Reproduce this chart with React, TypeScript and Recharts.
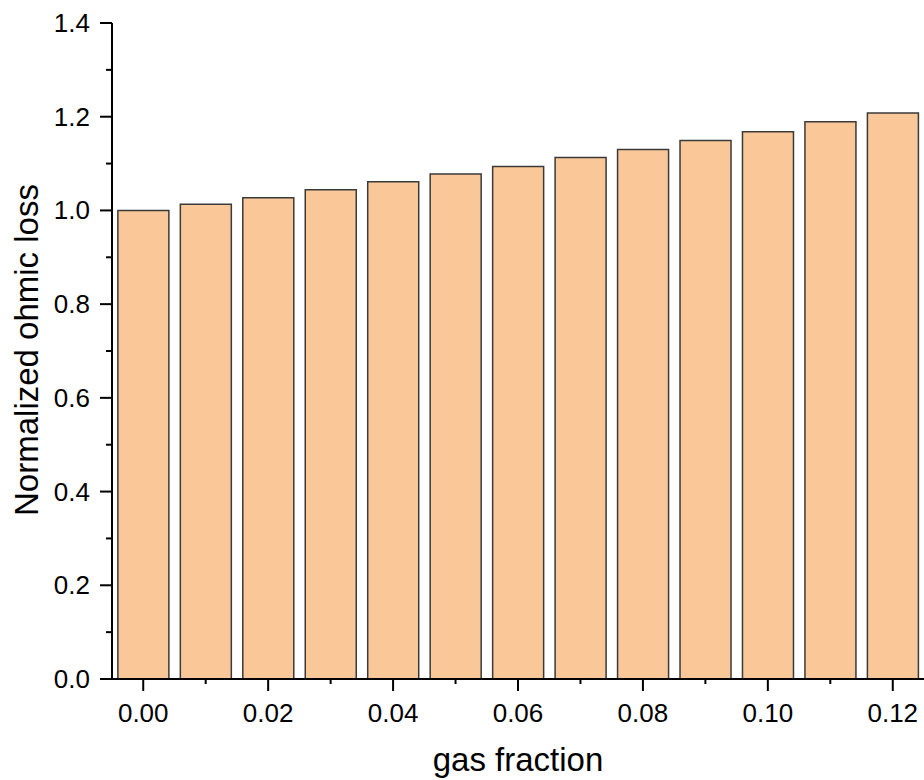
import React from 'react';
import { BarChart, Bar, XAxis, YAxis, Label } from 'recharts';

// gas fraction categories (one bar each)
const gasFraction = ['0.00', '0.01', '0.02', '0.03', '0.04', '0.05', '0.06', '0.07', '0.08', '0.09', '0.10', '0.11', '0.12'];
// normalized ohmic loss
const ohmicLoss = [1.0, 1.013, 1.027, 1.044, 1.061, 1.078, 1.094, 1.113, 1.13, 1.149, 1.168, 1.189, 1.208];
// y ticks, odd tenths are minor ticks without labels
const yTicks = [0, 0.1, 0.2, 0.3, 0.4, 0.5, 0.6, 0.7, 0.8, 0.9, 1.0, 1.1, 1.2, 1.3, 1.4];

const FONT = '"Liberation Sans", Arial, sans-serif';

const chartData = gasFraction.map((g, i) => ({ gas: g, loss: ohmicLoss[i] }));

const YTick = (props: any) => {
  const { x, y, payload } = props;
  const major = Math.round(payload.value * 10) % 2 === 0;
  return (
    <g>
      <line x1={x - (major ? 12 : 6)} x2={x} y1={y} y2={y} stroke="#000" strokeWidth={2} />
      {major && (
        <text x={x - 22} y={y} dy={9} textAnchor="end" fontSize={26} fontFamily={FONT} fill="#000">
          {payload.value.toFixed(1)}
        </text>
      )}
    </g>
  );
};

const XTick = (props: any) => {
  const { x, y, index, payload } = props;
  const major = index % 2 === 0;
  return (
    <g>
      <line x1={x} x2={x} y1={y} y2={y + (major ? 12 : 5)} stroke="#000" strokeWidth={2} />
      {major && (
        <text x={x} y={y + 43} textAnchor="middle" fontSize={26} fontFamily={FONT} fill="#000">
          {payload.value}
        </text>
      )}
    </g>
  );
};

const App: React.FC = () => {
  return (
    <div style={{ position: 'absolute', left: 0, top: 0, width: 924, height: 780, background: '#fff' }}>
      <BarChart
        width={924}
        height={780}
        data={chartData}
        margin={{ top: 23, right: 0, bottom: 0, left: 0 }}
        barCategoryGap="9.4%"
      >
        <XAxis
          dataKey="gas"
          type="category"
          interval={0}
          height={101}
          tickSize={0}
          tickMargin={0}
          tickLine={false}
          tick={XTick}
          axisLine={{ stroke: '#000', strokeWidth: 2 }}
        >
          <Label
            content={() => (
              <text x={518} y={771} textAnchor="middle" fontSize={33} fontFamily={FONT} fill="#000">
                gas fraction
              </text>
            )}
          />
        </XAxis>
        <YAxis
          type="number"
          domain={[0, 1.4]}
          ticks={yTicks}
          interval={0}
          width={112}
          tickSize={0}
          tickMargin={0}
          tickLine={false}
          tick={YTick}
          axisLine={{ stroke: '#000', strokeWidth: 2 }}
        >
          <Label
            content={() => (
              <text
                x={38}
                y={350}
                transform="rotate(-90 38 350)"
                textAnchor="middle"
                fontSize={33}
                fontFamily={FONT}
                fill="#000"
              >
                Normalized ohmic loss
              </text>
            )}
          />
        </YAxis>
        <Bar dataKey="loss" fill="#FAC898" stroke="#3a3a3a" strokeWidth={1.5} isAnimationActive={false} />
      </BarChart>
    </div>
  );
};

export default App;
